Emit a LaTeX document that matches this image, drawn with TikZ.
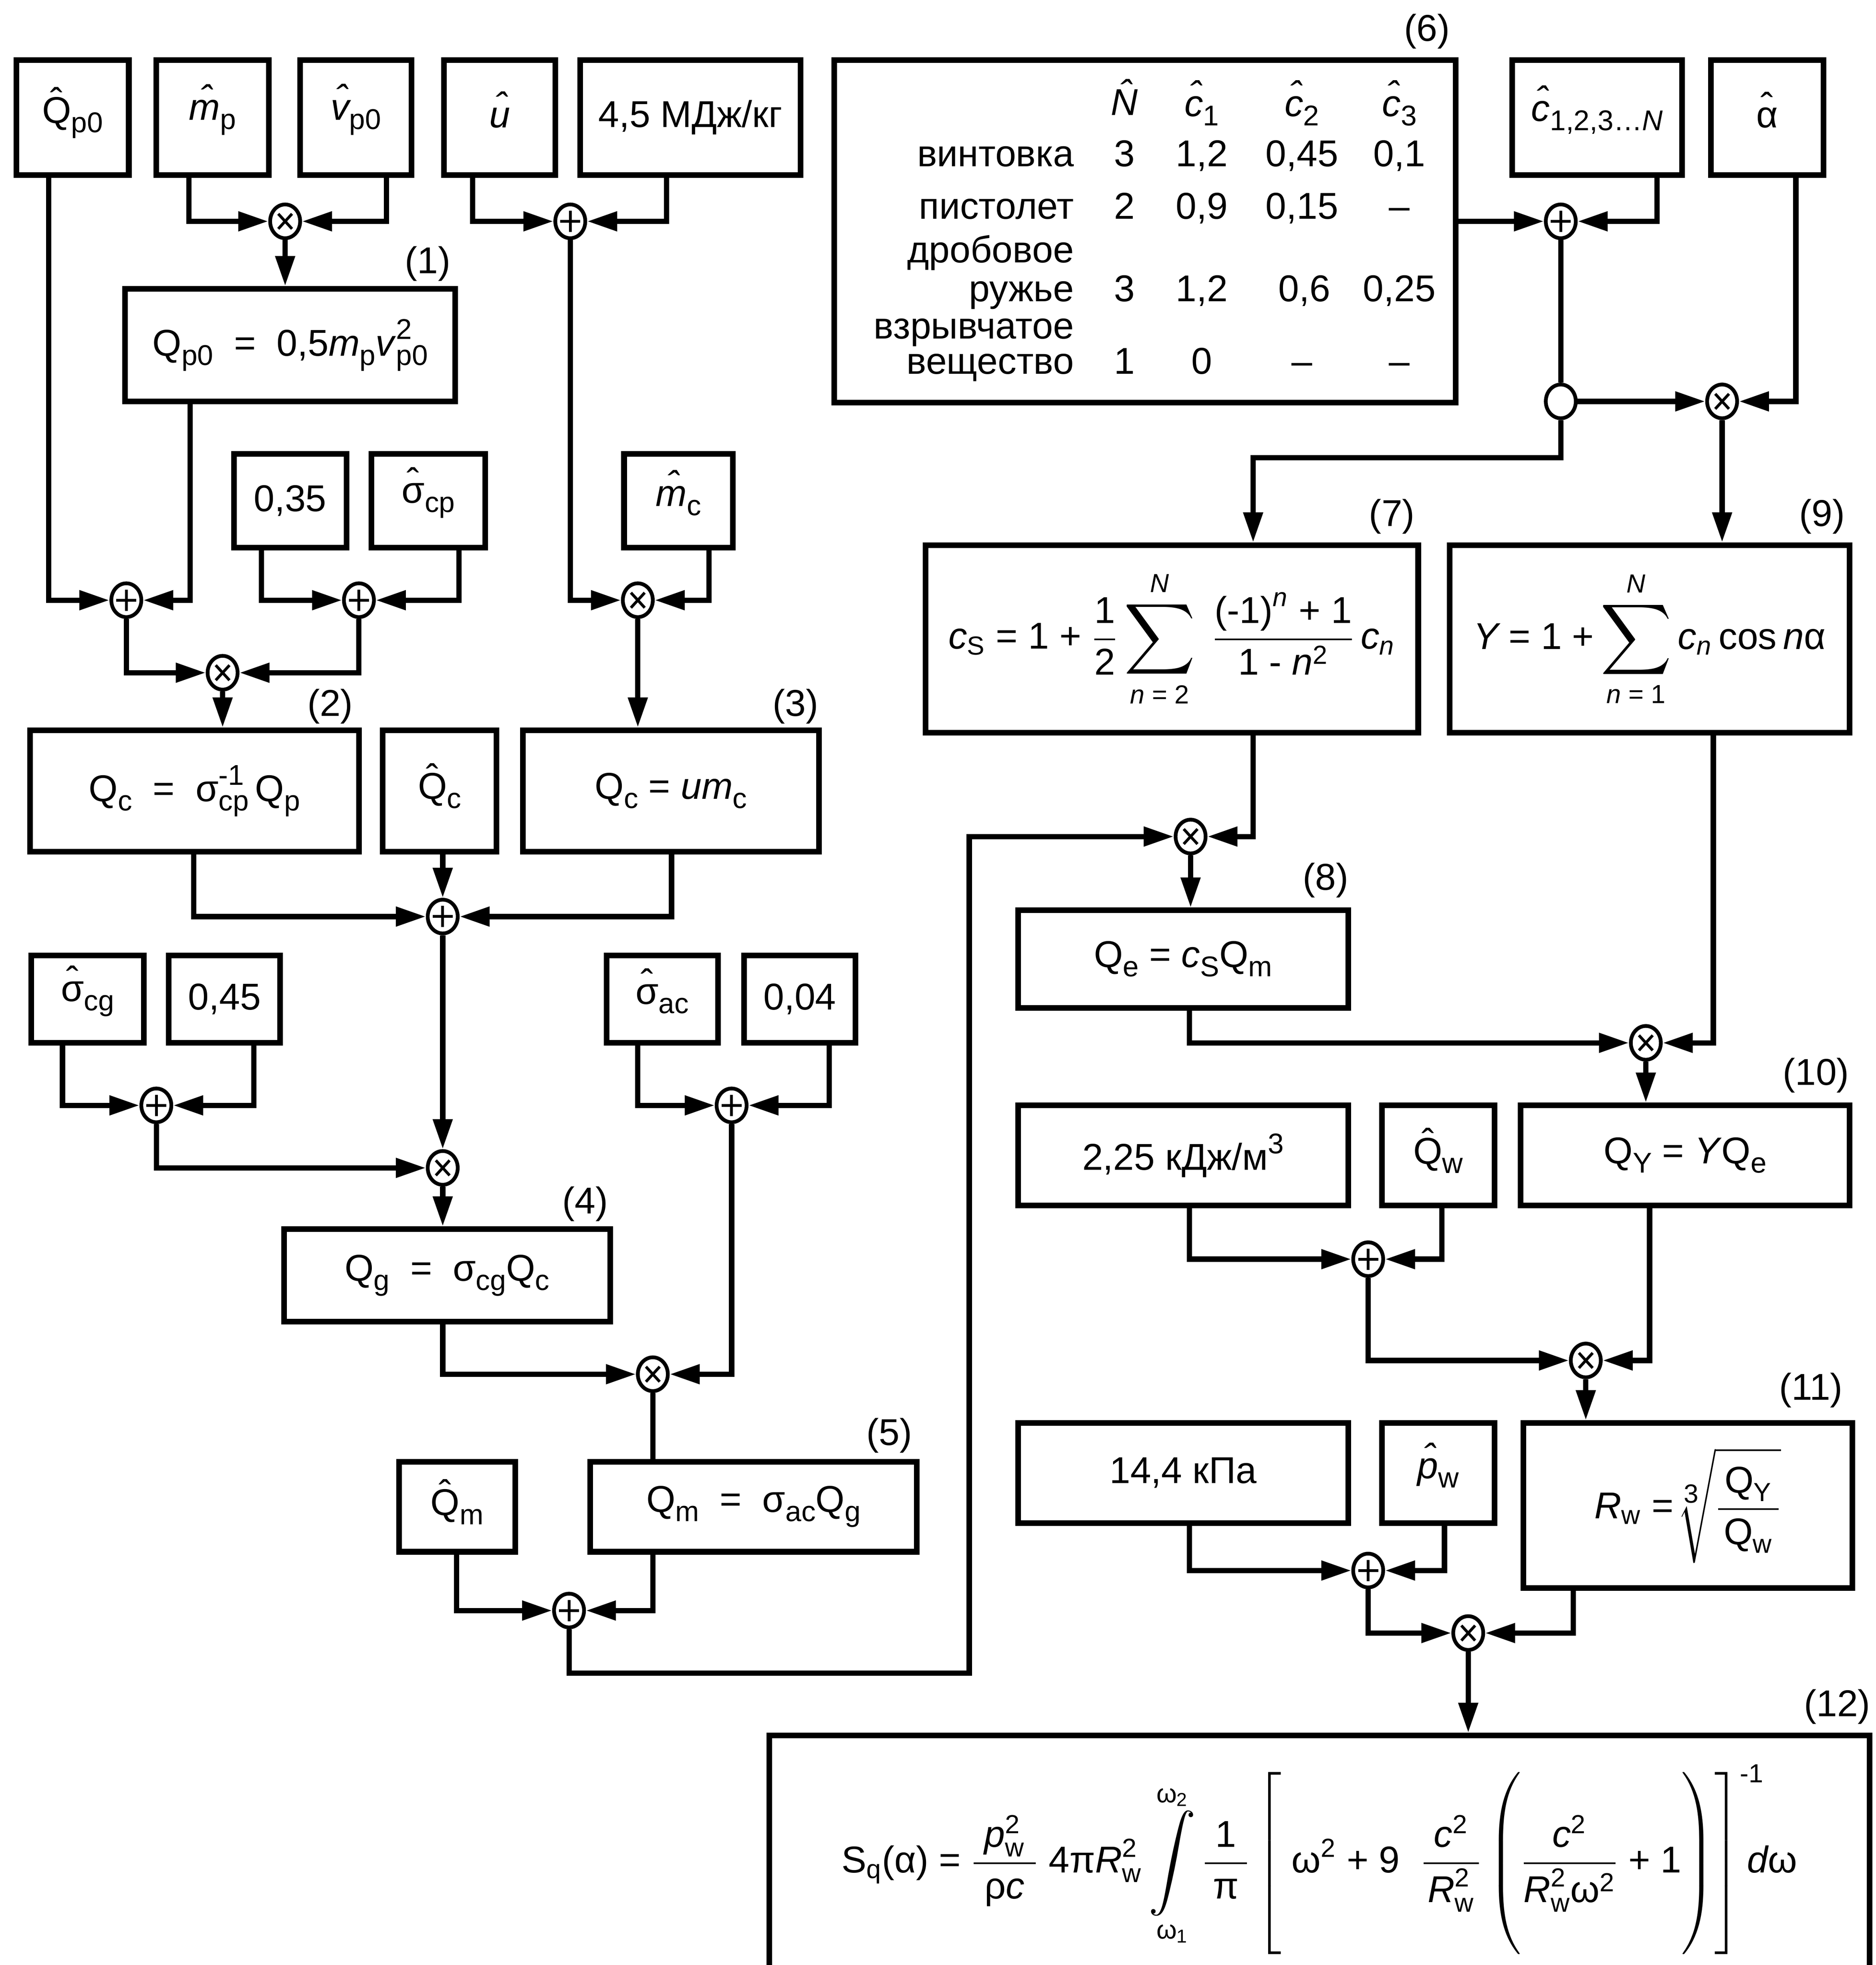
\documentclass[tikz,border=0pt]{standalone}
\usepackage{amsmath}
\usepackage{fontspec}
\setmainfont{Liberation Sans}
\usetikzlibrary{arrows.meta,shapes.geometric}
\newcommand\fsz{\fontsize{17}{19}\selectfont}
\newcommand\hatover[2]{{\ooalign{#2\cr\hidewidth\kern#1\raise3.9pt\hbox{\char"02C6}\hidewidth\cr}}}
\newcommand\hh[1]{\hatover{0pt}{#1}}
\newcommand\hhi[1]{\hatover{0.07em}{#1}}
\newcommand\mt[1]{\text{#1}}
\newcommand\mi[1]{\text{\itshape #1}}
\newcommand\sbx[1]{\raisebox{-4.2pt}{\fontsize{13}{13}\selectfont #1}}
\newcommand\spx[1]{\raisebox{7.5pt}{\fontsize{13}{13}\selectfont #1}}
\newcommand\supsub[2]{\rlap{\spx{#1}}\sbx{#2}}
\newcommand\bigsum{\mathop{\vcenter{\hbox{\scalebox{1.3}{$\displaystyle\sum$}}}}}
\newcommand\bigint{\mathop{\vcenter{\hbox{\scalebox{1.25}{$\displaystyle\int$}}}}}
\newcommand\pd{\mkern5mu}
\newcommand\bx[6]{\node[box, minimum width={(#4-#2)*0.02cm}, minimum height={(#5-#3)*0.02cm}] (#1) at ({(#2+#4)/2},{(#3+#5)/2}) {#6};}
\begin{document}
\begin{tikzpicture}[x=0.02cm,y=-0.02cm,
  box/.style={draw, rectangle, line width=0.09cm, inner sep=0pt, font=\fsz, align=center},
  conn/.style={line width=0.085cm},
  arr/.style={conn, -{Triangle[length=0.48cm,width=0.3cm]}},
  rnd/.style={ellipse, draw, line width=0.06cm, minimum width=0.48cm, minimum height=0.54cm, inner sep=0pt, fill=white},
  sumn/.style={rnd, path picture={\draw[line width=0.045cm] ([xshift=-0.16cm]path picture bounding box.center) -- ([xshift=0.16cm]path picture bounding box.center) ([yshift=-0.17cm]path picture bounding box.center) -- ([yshift=0.17cm]path picture bounding box.center);}},
  muln/.style={rnd, path picture={\draw[line width=0.045cm] ([shift={(-0.11cm,-0.12cm)}]path picture bounding box.center) -- ([shift={(0.11cm,0.12cm)}]path picture bounding box.center) ([shift={(-0.11cm,0.12cm)}]path picture bounding box.center) -- ([shift={(0.11cm,-0.12cm)}]path picture bounding box.center);}},
  brn/.style={rnd},
  lbl/.style={font=\fsz, inner sep=0pt},
  ttx/.style={font=\fsz, inner sep=0pt}]
\useasboundingbox (0,0) rectangle (1500,1571.5);
\clip (0,0) rectangle (1500,1571.5);

% ---------- top row ----------
\bx{qp}{13}{48}{103}{140}{\hh{Q}\sbx{p0}}
\bx{mp}{125}{48}{215}{140}{\textit{\hhi{m}}\sbx{p}}
\bx{vp}{240}{48}{329}{140}{\textit{\hhi{v}}\sbx{p0}}
\bx{uu}{355}{48}{444}{140}{\textit{\hhi{u}}}
\bx{kg}{464}{48}{640}{140}{4,5 МДж/кг}
\bx{tab}{667}{48}{1164}{322}{}
\bx{cn}{1209}{48}{1345}{140}{\textit{\hhi{c}}\sbx{1,2,3…\textit{N}}}
\bx{al}{1368}{48}{1458}{140}{\hh{α}}

% table contents
\node[ttx, anchor=base] (hN) at (899,92) {\textit{\hhi{N}}};
\node[ttx, anchor=base] (hc1) at (961,93) {\textit{\hhi{c}}\sbx{1}};
\node[ttx, anchor=base] (hc2) at (1041,93) {\textit{\hhi{c}}\sbx{2}};
\node[ttx, anchor=base] (hc3) at (1119,93) {\textit{\hhi{c}}\sbx{3}};
\node[ttx, anchor=base east] (ra) at (859,133) {винтовка};
\node[ttx, anchor=base east] (rb) at (859,175) {пистолет};
\node[ttx, anchor=base east] (rc1) at (859,210) {дробовое};
\node[ttx, anchor=base east] (rc2) at (859,241) {ружье};
\node[ttx, anchor=base east] (rd1) at (859,271) {взрывчатое};
\node[ttx, anchor=base east] (rd2) at (859,299) {вещество};
\node[ttx, anchor=base] (a1) at (899,133) {3};
\node[ttx, anchor=base] (a2) at (961,133) {1,2};
\node[ttx, anchor=base] (a3) at (1041,133) {0,45};
\node[ttx, anchor=base] (a4) at (1119,133) {0,1};
\node[ttx, anchor=base] (b1x) at (899,175) {2};
\node[ttx, anchor=base] (b2x) at (961,175) {0,9};
\node[ttx, anchor=base] (b3x) at (1041,175) {0,15};
\node[ttx, anchor=base] (b4x) at (1119,175) {–};
\node[ttx, anchor=base] (c1x) at (899,241) {3};
\node[ttx, anchor=base] (c2x) at (961,241) {1,2};
\node[ttx, anchor=base] (c3x) at (1043,241) {0,6};
\node[ttx, anchor=base] (c4x) at (1119,241) {0,25};
\node[ttx, anchor=base] (d1x) at (899,299) {1};
\node[ttx, anchor=base] (d2x) at (961,299) {0};
\node[ttx, anchor=base] (d3x) at (1041,299) {–};
\node[ttx, anchor=base] (d4x) at (1119,299) {–};

% ---------- junctions top ----------
\node[muln] (m1) at (228,177) {};
\node[sumn] (s1) at (456,177) {};
\node[sumn] (s6) at (1248,177) {};
\node[brn] (o6) at (1248,321) {};
\node[muln] (m6) at (1377,321) {};

\bx{b1}{100}{231}{364}{321}{Q\sbx{p0}~~=~~0,5\textit{m}\sbx{p}\textit{v}\supsub{2}{p0}}
\node[lbl] (l1) at (342,211) {(1)};

% ---------- left column ----------
\bx{k35}{187}{363}{277}{438}{0,35}
\bx{scp}{297}{363}{388}{438}{\hh{σ}\sbx{cp}}
\bx{mc}{499}{363}{586}{438}{\textit{\hhi{m}}\sbx{c}}
\node[sumn] (s2a) at (101,480) {};
\node[sumn] (s2b) at (287,480) {};
\node[muln] (m3) at (510,480) {};
\node[muln] (m2) at (178,538) {};
\bx{b2}{24}{584}{287}{681}{Q\sbx{c}~~=~~σ\supsub{-1}{cp}\,Q\sbx{p}}
\bx{qc}{306}{584}{397}{681}{\hh{Q}\sbx{c}}
\bx{b3}{418}{584}{655}{681}{Q\sbx{c} = \textit{um}\sbx{c}}
\node[lbl] (l2) at (264,565) {(2)};
\node[lbl] (l3) at (636,565) {(3)};
\node[sumn] (s3) at (354,733) {};
\bx{scg}{25}{764}{115}{834}{\hh{σ}\sbx{cg}}
\bx{k45}{135}{764}{224}{834}{0,45}
\bx{sac}{485}{764}{574}{834}{\hh{σ}\sbx{ac}}
\bx{k04}{595}{764}{684}{834}{0,04}
\node[sumn] (s4a) at (125,884) {};
\node[sumn] (s4b) at (585,884) {};
\node[muln] (m4) at (354,934) {};
\bx{b4}{227}{983}{488}{1057}{Q\sbx{g}~~=~~σ\sbx{cg}Q\sbx{c}}
\node[lbl] (l4) at (468,963) {(4)};
\node[muln] (m5) at (522,1099) {};
\bx{b5}{472}{1169}{733}{1241}{Q\sbx{m}~~=~~σ\sbx{ac}Q\sbx{g}}
\node[lbl] (l5) at (711,1148) {(5)};
\bx{qm}{319}{1169}{412}{1241}{\hh{Q}\sbx{m}}
\node[sumn] (s5) at (455,1288) {};
\coordinate (c1) at (775,1338);

% ---------- right column ----------
\coordinate (c2) at (1002,366);
\bx{b7}{740}{436}{1134}{586}{$\displaystyle \mi{c}_{\mt{S}}\mt{ = 1 + }\frac{\mt{1}}{\mt{2}}\bigsum_{\mi{n}\mt{ = 2}}^{\mi{N}}\;\frac{\mt{(-1)}^{\mi{n}}\mt{ + 1}}{\mt{1 - }\mi{n}^{\mt{2}}}\,\mi{c}_{\mi{n}}$}
\bx{b9}{1159}{436}{1479}{586}{$\displaystyle \mi{Y}\mt{ = 1 +}\bigsum_{\mi{n}\mt{ = 1}}^{\mi{N}}\mi{c}_{\mi{n}}\,\mt{cos}\,\mi{n}\mt{α}$}
\node[lbl] (l7) at (1113,413) {(7)};
\node[lbl] (l9) at (1457,413) {(9)};
\node[muln] (m7) at (952,669) {};
\bx{b8}{814}{728}{1078}{806}{Q\sbx{e} = \textit{c}\sbx{S}Q\sbx{m}}
\node[lbl] (l8) at (1060,704) {(8)};
\node[muln] (m8) at (1316,834) {};
\bx{kj}{814}{884}{1078}{964}{2,25 кДж/м\spx{3}}
\bx{qw}{1105}{884}{1195}{964}{\hh{Q}\sbx{w}}
\bx{b10}{1216}{884}{1479}{964}{Q\sbx{Y} = \textit{Y}Q\sbx{e}}
\node[lbl] (l10) at (1452,860) {(10)};
\node[sumn] (s9) at (1094,1007) {};
\node[muln] (m9) at (1268,1088) {};
\bx{kp}{814}{1138}{1078}{1218}{14,4 кПа}
\bx{pw}{1105}{1138}{1195}{1218}{\textit{\hhi{p}}\sbx{w}}
\bx{b11}{1218}{1138}{1481}{1270}{$\displaystyle \mi{R}_{\mt{w}}\mt{ =}\sqrt[\mt{\fontsize{12}{12}\selectfont 3}]{\frac{\mkern3mu\mt{Q}_{\mt{Y}}\mkern3mu}{\mt{Q}_{\mt{w}}}\vrule height 0.66cm depth 0.55cm width 0pt}$}
\node[lbl] (l11) at (1448,1112) {(11)};
\node[sumn] (s10) at (1094,1256) {};
\node[muln] (m10) at (1174,1306) {};
\bx{b12}{615}{1388}{1495}{1586}{$\displaystyle \mt{S}_{\mt{q}}\mt{(α) = }\frac{\pd\mi{p}_{\mt{w}}^{\mt{2}}\pd}{\mt{ρ}\mi{c}}\;\mt{4π}\mi{R}_{\mt{w}}^{\mt{2}}\bigint\limits_{\mt{ω}_{\mt{1}}}^{\mt{ω}_{\mt{2}}}\frac{\pd\mt{1}\pd}{\mt{π}}\left[\;\mt{ω}^{\mt{2}}\mt{ + 9 }\;\frac{\pd\mi{c}^{\mt{2}}\pd}{\mi{R}_{\mt{w}}^{\mt{2}}}\left(\vrule height 1.25cm depth 1.25cm width 0pt\frac{\pd\mi{c}^{\mt{2}}\pd}{\mi{R}_{\mt{w}}^{\mt{2}}\mt{ω}^{\mt{2}}}\mt{ + 1}\right)\right]^{\rlap{$\scriptstyle\mt{-1}$}}\mi{d}\mt{ω}$}
\node[lbl] (l12) at (1469,1365) {(12)};
\node[lbl] (l6) at (1141,25) {(6)};

% ---------- connectors left ----------
\draw[arr] (mp.south -| 151,0) |- (m1);
\draw[arr] (vp.south -| 309,0) |- (m1);
\draw[arr] (m1) -- (m1 |- b1.north);
\draw[arr] (uu.south -| 378,0) |- (s1);
\draw[arr] (kg.south -| 533,0) |- (s1);
\draw[arr] (qp.south -| 39,0) |- (s2a);
\draw[arr] (b1.south -| 152,0) |- (s2a);
\draw[arr] (k35.south -| 209,0) |- (s2b);
\draw[arr] (scp.south -| 367,0) |- (s2b);
\draw[arr] (s1) |- (m3);
\draw[arr] (mc.south -| 567,0) |- (m3);
\draw[arr] (s2a) |- (m2);
\draw[arr] (s2b) |- (m2);
\draw[arr] (m2) -- (m2 |- b2.north);
\draw[arr] (m3) -- (m3 |- b3.north);
\draw[arr] (b2.south -| 155,0) |- (s3);
\draw[arr] (qc.south -| s3) -- (s3);
\draw[arr] (b3.south -| 537,0) |- (s3);
\draw[arr] (scg.south -| 50,0) |- (s4a);
\draw[arr] (k45.south -| 203,0) |- (s4a);
\draw[arr] (sac.south -| 510,0) |- (s4b);
\draw[arr] (k04.south -| 663,0) |- (s4b);
\draw[arr] (s3) -- (m4);
\draw[arr] (s4a) |- (m4);
\draw[arr] (m4) -- (m4 |- b4.north);
\draw[arr] (b4.south -| m4) |- (m5);
\draw[arr] (s4b) |- (m5);
\draw[conn] (m5) -- (m5 |- b5.north);
\draw[arr] (qm.south -| 365,0) |- (s5);
\draw[arr] (b5.south -| m5) |- (s5);
\draw[arr] (s5) |- (c1) |- (m7);

% ---------- connectors right ----------
\draw[arr] (tab.east |- s6) -- (s6);
\draw[arr] (cn.south -| 1325,0) |- (s6);
\draw[conn] (s6) -- (o6);
\draw[arr] (o6) -- (m6);
\draw[arr] (al.south -| 1436,0) |- (m6);
\draw[arr] (m6) -- (m6 |- b9.north);
\draw[arr] (o6) |- (c2) -- (c2 |- b7.north);
\draw[arr] (b7.south -| 1002,0) |- (m7);
\draw[arr] (m7) -- (m7 |- b8.north);
\draw[arr] (b8.south -| 951,0) |- (m8);
\draw[arr] (b9.south -| 1370,0) |- (m8);
\draw[arr] (m8) -- (m8 |- b10.north);
\draw[arr] (kj.south -| 951,0) |- (s9);
\draw[arr] (qw.south -| 1153,0) |- (s9);
\draw[arr] (s9) |- (m9);
\draw[arr] (b10.south -| 1319,0) |- (m9);
\draw[arr] (m9) -- (m9 |- b11.north);
\draw[arr] (kp.south -| 951,0) |- (s10);
\draw[arr] (pw.south -| 1155,0) |- (s10);
\draw[arr] (s10) |- (m10);
\draw[arr] (b11.south -| 1258,0) |- (m10);
\draw[arr] (m10) -- (m10 |- b12.north);
\end{tikzpicture}
\end{document}
